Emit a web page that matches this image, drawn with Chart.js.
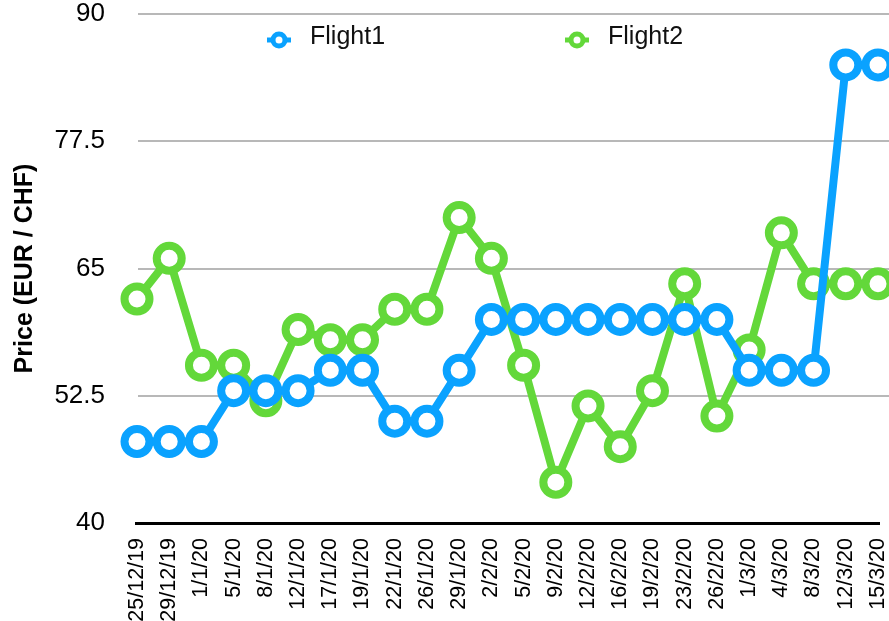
<!DOCTYPE html>
<html>
<head>
<meta charset="utf-8">
<script src="https://cdn.jsdelivr.net/npm/chart.js@4/dist/chart.umd.min.js"></script>
<style>
  html, body { margin: 0; padding: 0; background: #fff; }
</style>
</head>
<body>
<canvas id="priceChart" width="889" height="621"></canvas>
<script>
// Dates of the price checks
const dates = ['25/12/19', '29/12/19', '1/1/20', '5/1/20', '8/1/20', '12/1/20', '17/1/20', '19/1/20',
  '22/1/20', '26/1/20', '29/1/20', '2/2/20', '5/2/20', '9/2/20', '12/2/20', '16/2/20', '19/2/20',
  '23/2/20', '26/2/20', '1/3/20', '4/3/20', '8/3/20', '12/3/20', '15/3/20'];

// Prices
const flight1 = [48, 48, 48, 53, 53, 53, 55, 55, 50, 50, 55, 60,
  60, 60, 60, 60, 60, 60, 60, 55, 55, 55, 85, 85];
const flight2 = [62, 66, 55.5, 55.5, 52, 59, 58, 58, 61, 61, 70, 66,
  55.5, 44, 51.5, 47.5, 53, 63.5, 50.5, 57, 68.5, 63.5, 63.5, 63.5];

const seriesNames = ['Flight1', 'Flight2'];
const seriesColors = ['#0aa2ff', '#63d83a'];
const yMin = 40, yMax = 90, yStep = 12.5;

const FONT = "'Liberation Sans', Arial, Helvetica, sans-serif";

// horizontal grid lines run past the end of the x axis, out to the edge;
// the black base line stops at the plot area
const gridPlugin = {
  id: 'gridLines',
  beforeDatasetsDraw(chart) {
    const y = chart.scales.y;
    const area = chart.chartArea;
    const ctx = chart.ctx;
    ctx.save();
    ctx.strokeStyle = '#b8b8b8';
    ctx.lineWidth = 2;
    y.ticks.forEach(t => {
      if (t.value <= yMin) return;
      const py = Math.round(y.getPixelForValue(t.value));
      ctx.beginPath();
      ctx.moveTo(area.left + 1, py);
      ctx.lineTo(chart.width, py);
      ctx.stroke();
    });
    const base = Math.round(y.getPixelForValue(yMin)) + 0.5;
    ctx.strokeStyle = '#000';
    ctx.lineWidth = 3;
    ctx.beginPath();
    ctx.moveTo(area.left - 2, base);
    ctx.lineTo(area.right + 2, base);
    ctx.stroke();
    ctx.restore();
  }
};

// legend sits inside the plot, line + ring marker like the original
const legendPlugin = {
  id: 'lineLegend',
  afterDatasetsDraw(chart) {
    const ctx = chart.ctx;
    const items = [{ x: 267 }, { x: 565 }];
    ctx.save();
    chart.data.datasets.forEach((ds, i) => {
      const x = items[i].x;
      const cy = 40;
      ctx.strokeStyle = ds.borderColor;
      ctx.lineWidth = 5;
      ctx.beginPath();
      ctx.moveTo(x, cy);
      ctx.lineTo(x + 24, cy);
      ctx.stroke();
      ctx.beginPath();
      ctx.arc(x + 12, cy, 6, 0, Math.PI * 2);
      ctx.fillStyle = '#fff';
      ctx.fill();
      ctx.lineWidth = 5;
      ctx.stroke();
      ctx.fillStyle = '#111';
      ctx.font = '25px ' + FONT;
      ctx.textBaseline = 'middle';
      ctx.fillText(ds.label, x + 43, 37);
    });
    ctx.restore();
  }
};

function makeDataset(label, data, color) {
  return {
    label: label,
    data: data,
    borderColor: color,
    borderWidth: 8,
    pointRadius: 12.5,
    pointHoverRadius: 12.5,
    pointBorderWidth: 8,
    pointBorderColor: color,
    pointBackgroundColor: '#fff',
    tension: 0,
    clip: false
  };
}

const ctx = document.getElementById('priceChart').getContext('2d');
const chart = new Chart(ctx, {
  type: 'line',
  data: {
    labels: dates,
    datasets: [
      makeDataset(seriesNames[0], flight1, seriesColors[0]),
      makeDataset(seriesNames[1], flight2, seriesColors[1])
    ]
  },
  options: {
    responsive: false,
    animation: false,
    devicePixelRatio: 1,
    layout: { autoPadding: false, padding: { top: 14, right: 11, left: 0, bottom: 0 } },
    plugins: {
      legend: { display: false },
      tooltip: { enabled: false }
    },
    scales: {
      x: {
        offset: false,
        grid: { display: false, drawTicks: false },
        border: { display: false },
        ticks: {
          autoSkip: false,
          maxRotation: 90,
          minRotation: 90,
          padding: 15,
          color: '#000',
          font: { family: FONT, size: 21.5 }
        },
        afterFit(scale) {
          scale.height = 98;
          scale.paddingLeft = 0;
          scale.paddingRight = 0;
        }
      },
      y: {
        min: yMin,
        max: yMax,
        grid: { display: false, drawTicks: false },
        border: { display: false },
        ticks: {
          stepSize: yStep,
          padding: 32,
          color: '#000',
          font: { family: FONT, size: 26 }
        },
        title: {
          display: true,
          text: 'Price (EUR / CHF)',
          color: '#000',
          padding: { top: 10, bottom: 0 },
          font: { family: FONT, size: 25, weight: 'bold' }
        },
        afterFit(scale) {
          scale.width = 137;
          scale.paddingTop = 0;
          scale.paddingBottom = 0;
        }
      }
    }
  },
  plugins: [gridPlugin, legendPlugin]
});
</script>
</body>
</html>
